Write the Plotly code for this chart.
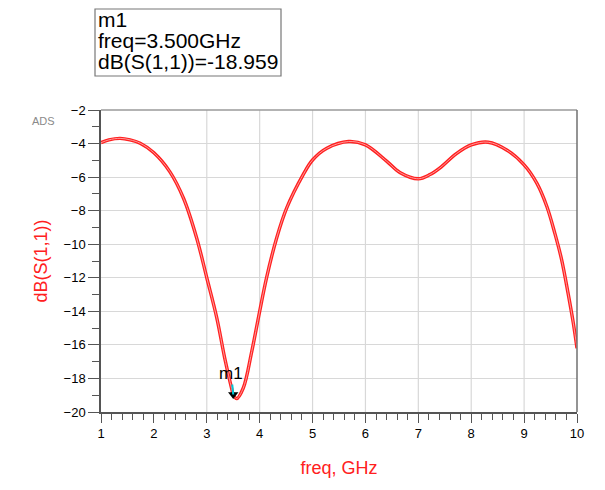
import plotly.graph_objects as go

# ---- data ----
freq_ghz = [1.00, 1.15, 1.36, 1.55, 1.74, 2.00, 2.30, 2.56, 2.81, 3.00, 3.19, 3.34,
            3.47, 3.50, 3.565, 3.69, 3.85, 4.00, 4.13, 4.32, 4.51, 4.82, 5.00, 5.27,
            5.68, 6.00, 6.40, 6.65, 7.00, 7.22, 7.41, 7.72, 8.00, 8.32, 8.67, 9.00,
            9.24, 9.43, 9.58, 9.71, 9.83, 9.93, 10.00]
s11_db = [-3.95, -3.78, -3.69, -3.78, -3.98, -4.55, -5.67, -7.26, -9.64, -12.0, -14.4, -16.8,
          -18.6, -18.96, -19.2, -18.57, -16.4, -14.0, -12.0, -9.64, -7.85, -5.87, -4.98, -4.28,
          -3.88, -4.08, -5.05, -5.72, -6.1, -5.85, -5.45, -4.6, -4.08, -3.92, -4.38, -5.27,
          -6.36, -7.75, -9.34, -10.93, -12.9, -14.7, -16.2]

marker_freq = [3.5]
marker_db = [-18.959]
marker_name = "m1"

x_tickvals = [1, 2, 3, 4, 5, 6, 7, 8, 9, 10]
y_tickvals = [-2, -4, -6, -8, -10, -12, -14, -16, -18, -20]
x_grid = [3, 4, 5, 6, 7, 8, 9]

RED = "#ff2020"
FONT = "Liberation Sans, Arial, sans-serif"

# page-pixel helpers (plot area spans px 101..577, py 110..412 on the page)
PL, PR, PT, PB = 101, 577, 110, 412
def px2paper(px):
    return (px - PL) / (PR - PL)
def py2paper(py):
    return (PB - py) / (PB - PT)

fig = go.Figure()
fig.add_trace(go.Scatter(x=freq_ghz, y=s11_db, mode="lines",
                         line=dict(color=RED, width=3.4, shape="spline"),
                         hoverinfo="skip", showlegend=False))
fig.add_trace(go.Scatter(x=freq_ghz, y=s11_db, mode="lines",
                         line=dict(color="#ff9a9a", width=1.0, shape="spline"),
                         hoverinfo="skip", showlegend=False))
fig.add_trace(go.Scatter(x=marker_freq, y=marker_db, mode="markers",
                         marker=dict(symbol="triangle-down", size=9, color="black"),
                         showlegend=False))

shapes = []
for gx in x_grid:
    shapes.append(dict(type="line", xref="x", yref="paper", x0=gx, x1=gx, y0=0, y1=1,
                       line=dict(color="#d8d8d8", width=1.2), layer="below"))
# top and right frame lines
shapes.append(dict(type="line", xref="paper", yref="paper", x0=0, x1=1, y0=1, y1=1,
                   line=dict(color="#9a9a9a", width=1.5)))
shapes.append(dict(type="line", xref="paper", yref="paper", x0=1, x1=1, y0=0, y1=1,
                   line=dict(color="#707070", width=1.5)))
# marker readout box
shapes.append(dict(type="rect", xref="paper", yref="paper",
                   x0=px2paper(95), x1=px2paper(281),
                   y0=py2paper(76), y1=py2paper(9),
                   line=dict(color="#777777", width=1.2)))
# faint page edge at left
shapes.append(dict(type="line", xref="paper", yref="paper",
                   x0=px2paper(5), x1=px2paper(5), y0=py2paper(490), y1=py2paper(0),
                   line=dict(color="#eeeeee", width=2)))

readout_lines = [marker_name,
                 "freq=%.3fGHz" % marker_freq[0],
                 "dB(S(1,1))=%.3f" % marker_db[0]]
readout_py = [19.5, 40.5, 61.5]
annotations = []
for txt, py in zip(readout_lines, readout_py):
    annotations.append(dict(text=txt, xref="paper", yref="paper",
                            x=px2paper(96), y=py2paper(py),
                            xanchor="left", yanchor="middle", showarrow=False,
                            font=dict(family=FONT, size=21, color="black")))
annotations.append(dict(text="ADS", xref="paper", yref="paper",
                        x=px2paper(43), y=py2paper(121),
                        xanchor="center", yanchor="middle", showarrow=False,
                        font=dict(family=FONT, size=11, color="#8a8a8a")))
annotations.append(dict(text=marker_name, x=marker_freq[0], y=marker_db[0],
                        xref="x", yref="y", showarrow=True, arrowhead=0,
                        arrowcolor="#00c8d8", arrowwidth=2, ax=-2, ay=-21,
                        font=dict(family=FONT, size=17, color="black")))

fig.update_layout(
    width=605, height=490,
    margin=dict(l=93, r=36, t=102, b=86),
    paper_bgcolor="white", plot_bgcolor="white",
    font=dict(family=FONT, size=13, color="black"),
    shapes=shapes, annotations=annotations,
    xaxis=dict(range=[1, 10], tickvals=x_tickvals, showgrid=False, zeroline=False,
               showline=True, linecolor="#555555", linewidth=1.5,
               ticks="outside", ticklen=9, tickcolor="#555555", tickwidth=1.2,
               minor=dict(dtick=0.2, ticklen=6, tickcolor="#555555", showgrid=False, ticks="outside"),
               tickfont=dict(size=13, color="black"),
               title=dict(text="freq, GHz", font=dict(size=18, color=RED), standoff=21)),
    yaxis=dict(range=[-20, -2], tickvals=y_tickvals, showgrid=True, gridcolor="#d8d8d8",
               gridwidth=1.2, zeroline=False,
               showline=True, linecolor="#555555", linewidth=1.5,
               ticks="outside", ticklen=11, tickcolor="#555555", tickwidth=1.2,
               minor=dict(dtick=1, ticklen=7, tickcolor="#555555", showgrid=False, ticks="outside"),
               tickfont=dict(size=13, color="black"),
               title=dict(text="dB(S(1,1))", font=dict(size=18, color=RED), standoff=11)),
)

fig.write_html("out.html")
